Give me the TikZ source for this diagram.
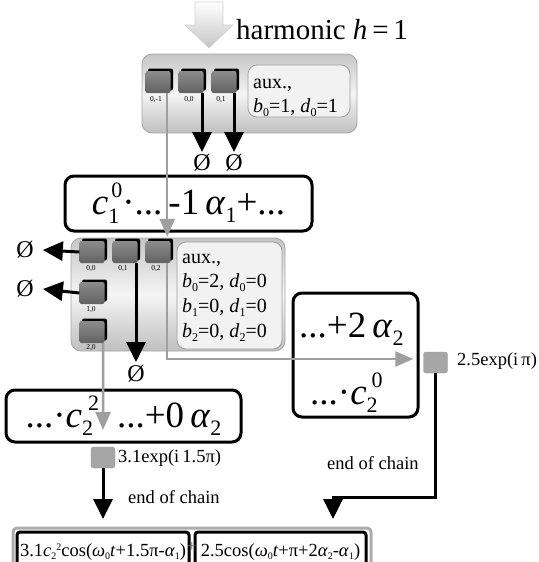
\documentclass[tikz,border=0pt]{standalone}
\usepackage{fontspec}
\setmainfont{Liberation Serif}
\usetikzlibrary{arrows.meta,shadows,calc}
\newcommand\rs[3]{\raisebox{#1}{\fontsize{#2}{#2}\selectfont #3}}
\begin{document}
\begin{tikzpicture}[x=1pt,y=-1pt,
  panel/.style={draw=gray!70, line width=0.8pt, rounded corners=10pt, top color=gray!45, bottom color=gray!50, middle color=gray!8},
  auxbox/.style={draw=gray!75, line width=0.8pt, rounded corners=9pt, fill=gray!10, inner sep=0pt},
  cube/.style={minimum width=25pt, minimum height=22pt, inner sep=0pt, rounded corners=2pt, top color=black!45, bottom color=black!62, general shadow={fill=black, shadow xshift=2.5pt, shadow yshift=2.5pt}},
  flatcube/.style={minimum width=24pt, minimum height=21pt, inner sep=0pt, rounded corners=2.5pt, fill=gray!70, draw=gray!80},
  tiny/.style={font=\fontsize{7.5}{8}\selectfont, inner sep=0pt},
  empty/.style={font=\fontsize{24}{24}\selectfont, inner sep=0pt},
  auxtext/.style={font=\fontsize{20}{20}\selectfont, anchor=base west, inner sep=0pt},
  label/.style={font=\fontsize{18.5}{18.5}\selectfont, anchor=west, inner sep=0pt},
  bigbox/.style={draw=black, line width=3pt, rounded corners=9pt, inner sep=0pt, fill=white, font=\fontsize{37}{37}\selectfont},
  bigtext/.style={font=\fontsize{37}{37}\selectfont, anchor=base west, inner sep=0pt},
  formbox/.style={draw=black, line width=3pt, rounded corners=3pt, inner sep=0pt, fill=white, minimum height=42pt, font=\fontsize{18.5}{18.5}\selectfont},
  blk/.style={line width=3pt, -{Triangle[width=19pt,length=20pt]}},
  gry/.style={line width=2.5pt, draw=gray!75, -{Triangle[width=15pt,length=18pt]}}
]
\useasboundingbox (0,0) rectangle (538,562);

% top input arrow
\path[top color=white, bottom color=gray!45, draw=gray!35, line width=0.6pt]
  (195,2) -- (223,2) -- (223,25) -- (233,25) -- (209,48) -- (185,25) -- (195,25) -- cycle;
\node[anchor=base west, inner sep=0pt, font=\fontsize{29}{29}\selectfont] (harm) at (236,39) {harmonic \textit{h}\,=\,1};

% top panel
\path[panel] (142,54) rectangle (357,133);
\node[auxbox, minimum width=102pt, minimum height=52pt] (aux1) at (299,91) {};
\node[auxtext] (aux1a) at (253,88) {aux.,};
\node[auxtext] (aux1b) at (253,112) {\textit{b}\rs{-4pt}{12}{0}=1, \textit{d}\rs{-4pt}{12}{0}=1};

\node[cube] (c0m1) at (158,82) {};
\node[cube] (c00t) at (191,82) {};
\node[cube] (c01t) at (224,82) {};
\node[tiny] (l0m1) at (156,100) {0,-1};
\node[tiny] (l00t) at (189,100) {0,0};
\node[tiny] (l01t) at (221,100) {0,1};

\node[empty, anchor=north] (e1) at (202,154) {Ø};
\node[empty, anchor=north] (e2) at (234,154) {Ø};

% c1 box
\node[bigbox, minimum width=247pt, minimum height=55pt] (eq1) at (188.5,203.5)
  {\textit{c}\rlap{\rs{-9pt}{22}{1}}\rs{17pt}{22}{\hspace{3pt}0}·...\,-1\,\textit{α}\rs{-8pt}{22}{1}+...};

% middle panel
\path[panel] (71,238) rectangle (285,351);
\node[auxbox, minimum width=105pt, minimum height=107pt] (aux2) at (229.5,295.5) {};
\node[auxtext] (aux2a) at (182,263) {aux.,};
\node[auxtext] (aux2b) at (182,287) {\textit{b}\rs{-4pt}{12}{0}=2, \textit{d}\rs{-4pt}{12}{0}=0};
\node[auxtext] (aux2c) at (182,312) {\textit{b}\rs{-4pt}{12}{1}=0, \textit{d}\rs{-4pt}{12}{1}=0};
\node[auxtext] (aux2d) at (182,337) {\textit{b}\rs{-4pt}{12}{2}=0, \textit{d}\rs{-4pt}{12}{2}=0};

\node[cube] (m00) at (92,252) {};
\node[cube] (m01) at (125,252) {};
\node[cube] (m02) at (158,252) {};
\node[cube] (m10) at (92,293) {};
\node[cube] (m20) at (92,332) {};
\node[tiny] (lm00) at (91,269) {0,0};
\node[tiny] (lm01) at (123,269) {0,1};
\node[tiny] (lm02) at (156,269) {0,2};
\node[tiny] (lm10) at (91,310) {1,0};
\node[tiny] (lm20) at (91,348) {2,0};

\node[empty] (e3) at (25,250) {Ø};
\node[empty] (e4) at (25,289) {Ø};
\node[empty, anchor=north] (e5) at (136,365) {Ø};

% right box
\node[bigbox, minimum width=125pt, minimum height=124pt] (eq2) at (355.5,355) {};
\node[bigtext] (eq2a) at (299,337) {...+2\,\textit{α}\rs{-8pt}{22}{2}};
\node[bigtext] (eq2b) at (310,404) {...·\textit{c}\rlap{\rs{-8pt}{22}{2}}\rs{17pt}{22}{\hspace{5pt}0}};

% left bottom box
\node[bigbox, minimum width=235pt, minimum height=52pt] (eq3) at (123.5,416)
  {...·\textit{c}\rlap{\rs{-8pt}{22}{2}}\rs{17pt}{22}{\hspace{6pt}2}\hspace{18pt}...+0\,\textit{α}\rs{-8pt}{22}{2}};

% result cubes
\node[flatcube] (q25) at (435.5,362.5) {};
\node[label] (lq25) at (457,361) {2.5exp(i\,π)};
\node[flatcube] (q31) at (103,457.5) {};
\node[label] (lq31) at (118,458) {3.1exp(i\,1.5π)};
\node[label] (end1) at (128,497) {end of chain};
\node[label] (end2) at (327,463) {end of chain};

% bottom formula
\node[draw=gray!65, line width=3pt, rounded corners=4pt, minimum width=358pt, minimum height=52pt, inner sep=0pt] (outer) at (192,554) {};
\node[formbox, minimum width=172pt] (f1) at (103,553)
  {\raisebox{6pt}{3.1\textit{c}\rs{-3pt}{10}{2}\rs{6pt}{10}{2}cos(\textit{ω}\rs{-3pt}{10}{0}\textit{t}+1.5π-\textit{α}\rs{-3pt}{10}{1})}};
\node[formbox, minimum width=171pt] (f2) at (280.5,553)
  {\raisebox{6pt}{2.5cos(\textit{ω}\rs{-3pt}{10}{0}\textit{t}+π+2\textit{α}\rs{-3pt}{10}{2}-\textit{α}\rs{-3pt}{10}{1})}};
\node[inner sep=0pt, font=\fontsize{16}{16}\selectfont, text=gray!80!black] (plus) at (192,547) {+};

% coordinates for free ends
\coordinate (t1) at (103,430);
\coordinate (t2) at (103,519);
\coordinate (k1) at (333,497);
\coordinate (t3) at (333,519);

% connectors
\draw[blk] (e1.north |- c00t.south) -- ([yshift=2pt]e1.north);
\draw[blk] (e2.north |- c01t.south) -- ([yshift=2pt]e2.north);
\draw[gry] ([xshift=-3.5pt]c0m1.south east) -- ([xshift=-3.5pt,yshift=4pt]m02.north east);
\draw[blk] (m00.west) -- ([xshift=9pt]e3.east);
\draw[blk] (m10.west) -- ([xshift=9pt]e4.east);
\draw[blk] (e5.north |- m01.south) -- ([yshift=3pt]e5.north);
\draw[gry, line cap=butt] ([xshift=-3.5pt]m02.south east) |- ([xshift=-10pt,yshift=3.5pt]q25.west);
\draw[gry] ([xshift=-1.5pt]m20.south east) -- (t1);
\draw[blk] (q31.south) -- (t2);
\draw[blk] (q25.south) |- (k1) -- (t3);
\end{tikzpicture}
\end{document}
